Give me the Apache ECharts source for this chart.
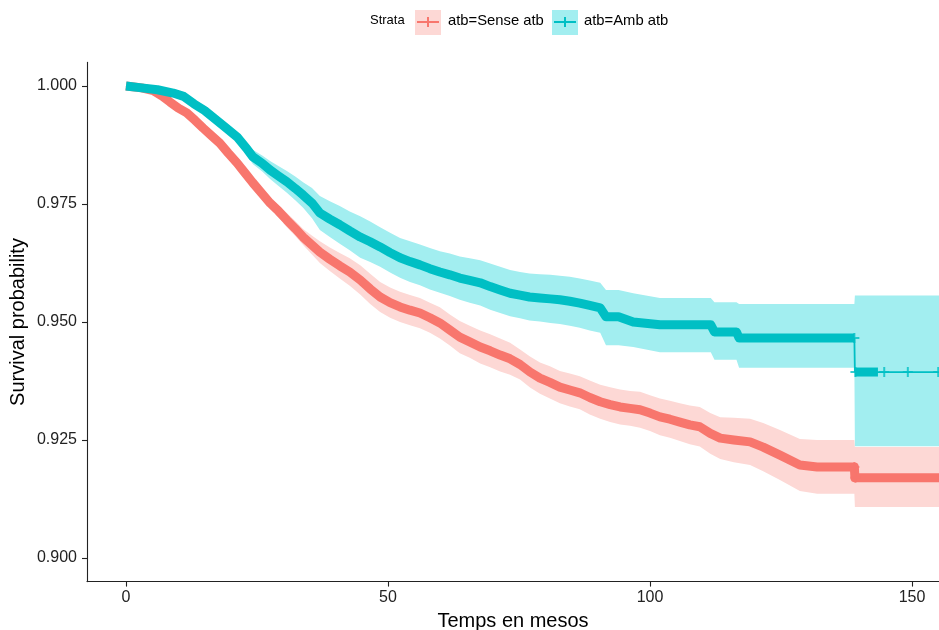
<!DOCTYPE html>
<html>
<head>
<meta charset="utf-8">
<script src="https://cdn.jsdelivr.net/npm/echarts@6/dist/echarts.min.js"></script>
<style>
  html, body { margin: 0; padding: 0; background: #ffffff; }
  #chart { width: 939px; height: 630px; }
</style>
</head>
<body>
<div id="chart"></div>
<script>
// Kaplan-Meier survival by antibiotic group, with 95% confidence bands
const strataTitle = 'Strata';
const strataNames = ['atb=Sense atb', 'atb=Amb atb'];
const xTicks = [0, 50, 100, 150];
const yTicks = [0.900, 0.925, 0.950, 0.975, 1.000];

// atb=Sense atb
const senseTime = [0, 3, 5.2, 7, 8.4, 10, 11.6, 13.2, 14.7, 16.3, 17.9, 19.5, 21.2, 22.7, 24.2, 25.8, 27.5, 29.1, 30.7, 32.3, 33.8, 35.4, 37.0, 38.9, 40.8, 42.7, 44.7, 46.6, 48.5, 50.4, 52.3, 54.2, 56.1, 58.0, 59.9, 61.8, 63.7, 65.6, 67.6, 69.5, 71.4, 73.3, 75.2, 77.1, 79.0, 80.9, 82.8, 84.7, 86.6, 88.5, 90.5, 92.4, 94.3, 96.2, 98.1, 100, 101.9, 103.8, 105.7, 107.6, 109.5, 111.5, 113.4, 116, 119.1, 121.6, 124.8, 128.6, 131.9, 139.0, 139.1, 158];
const senseSurv = [1.0000, 0.9996, 0.9990, 0.9978, 0.9966, 0.9953, 0.9943, 0.9927, 0.9911, 0.9895, 0.9879, 0.9858, 0.9837, 0.9816, 0.9795, 0.9774, 0.9752, 0.9735, 0.9716, 0.9698, 0.9680, 0.9664, 0.9648, 0.9633, 0.9619, 0.9606, 0.9589, 0.9570, 0.9553, 0.9541, 0.9532, 0.9525, 0.9519, 0.9509, 0.9498, 0.9483, 0.9468, 0.9458, 0.9447, 0.9439, 0.9430, 0.9422, 0.9410, 0.9394, 0.9381, 0.9372, 0.9362, 0.9356, 0.9350, 0.9340, 0.9331, 0.9325, 0.9320, 0.9317, 0.9314, 0.9307, 0.9299, 0.9294, 0.9288, 0.9282, 0.9278, 0.9264, 0.9254, 0.9250, 0.9246, 0.9235, 0.9218, 0.9197, 0.9193, 0.9193, 0.9170, 0.9170];
const senseUpper = [1.0000, 0.9997, 0.9991, 0.9980, 0.9968, 0.9955, 0.9946, 0.9930, 0.9915, 0.9899, 0.9884, 0.9863, 0.9843, 0.9822, 0.9802, 0.9783, 0.9763, 0.9748, 0.9731, 0.9714, 0.9697, 0.9684, 0.9671, 0.9658, 0.9646, 0.9635, 0.9620, 0.9602, 0.9585, 0.9573, 0.9564, 0.9557, 0.9551, 0.9541, 0.9531, 0.9516, 0.9502, 0.9492, 0.9482, 0.9474, 0.9465, 0.9456, 0.9442, 0.9427, 0.9414, 0.9406, 0.9396, 0.9391, 0.9385, 0.9376, 0.9367, 0.9362, 0.9357, 0.9354, 0.9352, 0.9345, 0.9338, 0.9333, 0.9328, 0.9323, 0.9320, 0.9307, 0.9298, 0.9297, 0.9295, 0.9286, 0.9271, 0.9252, 0.9250, 0.9250, 0.9235, 0.9235];
const senseLower = [1.0000, 0.9995, 0.9989, 0.9976, 0.9964, 0.9951, 0.9940, 0.9924, 0.9907, 0.9891, 0.9874, 0.9853, 0.9831, 0.9810, 0.9788, 0.9765, 0.9741, 0.9722, 0.9701, 0.9682, 0.9663, 0.9644, 0.9625, 0.9608, 0.9592, 0.9577, 0.9558, 0.9538, 0.9521, 0.9509, 0.9500, 0.9493, 0.9487, 0.9477, 0.9465, 0.9450, 0.9434, 0.9424, 0.9412, 0.9404, 0.9395, 0.9388, 0.9378, 0.9361, 0.9348, 0.9338, 0.9328, 0.9321, 0.9315, 0.9304, 0.9295, 0.9288, 0.9283, 0.9280, 0.9276, 0.9269, 0.9260, 0.9255, 0.9248, 0.9241, 0.9236, 0.9221, 0.9210, 0.9203, 0.9197, 0.9184, 0.9165, 0.9142, 0.9136, 0.9136, 0.9108, 0.9108];
const senseCensor = [139.0, 139.2];
const senseDense = [[0, 158]];

// atb=Amb atb
const ambTime = [0, 3, 6, 9, 11, 13, 15, 17, 19, 21.2, 23, 24.2, 26, 27.5, 29, 30.7, 32.3, 33.8, 35.5, 37.0, 38.9, 40.8, 42.7, 44.7, 46.6, 48.5, 50.4, 52.3, 54.2, 56.1, 58, 59.9, 61.8, 63.7, 65.6, 67.6, 69.5, 71.4, 73.3, 75.2, 77, 79, 81, 82.8, 84.7, 86.6, 88.5, 90.5, 91.6, 94.0, 96.8, 101.9, 111.6, 112.3, 116.5, 117.0, 139.0, 139.1, 158];
const ambSurv = [1.0000, 0.9996, 0.9992, 0.9985, 0.9978, 0.9962, 0.9948, 0.9930, 0.9912, 0.9892, 0.9868, 0.9850, 0.9836, 0.9822, 0.9810, 0.9797, 0.9783, 0.9769, 0.9752, 0.9731, 0.9718, 0.9706, 0.9693, 0.9680, 0.9670, 0.9659, 0.9647, 0.9636, 0.9628, 0.9621, 0.9613, 0.9606, 0.9600, 0.9593, 0.9588, 0.9583, 0.9575, 0.9568, 0.9561, 0.9557, 0.9553, 0.9551, 0.9549, 0.9547, 0.9544, 0.9540, 0.9535, 0.9530, 0.9511, 0.9511, 0.9500, 0.9494, 0.9494, 0.9479, 0.9479, 0.9466, 0.9466, 0.9394, 0.9394];
const ambUpper = [1.0000, 0.9998, 0.9995, 0.9989, 0.9983, 0.9968, 0.9955, 0.9938, 0.9921, 0.9903, 0.9881, 0.9865, 0.9853, 0.9841, 0.9831, 0.9820, 0.9808, 0.9796, 0.9784, 0.9767, 0.9756, 0.9746, 0.9734, 0.9724, 0.9713, 0.9701, 0.9689, 0.9678, 0.9671, 0.9664, 0.9657, 0.9650, 0.9645, 0.9639, 0.9635, 0.9631, 0.9624, 0.9617, 0.9610, 0.9606, 0.9603, 0.9601, 0.9600, 0.9598, 0.9596, 0.9592, 0.9588, 0.9583, 0.9568, 0.9568, 0.9561, 0.9551, 0.9551, 0.9542, 0.9542, 0.9538, 0.9538, 0.9556, 0.9556];
const ambLower = [1.0000, 0.9994, 0.9989, 0.9981, 0.9973, 0.9956, 0.9941, 0.9922, 0.9903, 0.9881, 0.9855, 0.9835, 0.9819, 0.9803, 0.9789, 0.9774, 0.9758, 0.9742, 0.9720, 0.9695, 0.9680, 0.9666, 0.9652, 0.9636, 0.9627, 0.9617, 0.9605, 0.9594, 0.9585, 0.9578, 0.9569, 0.9562, 0.9555, 0.9547, 0.9541, 0.9535, 0.9526, 0.9519, 0.9512, 0.9508, 0.9503, 0.9501, 0.9498, 0.9496, 0.9492, 0.9488, 0.9482, 0.9477, 0.9451, 0.9451, 0.9447, 0.9436, 0.9436, 0.9420, 0.9420, 0.9403, 0.9403, 0.9237, 0.9237];
const ambCensor = [139.0, 139.2, 144.7, 149.2, 155.0];
const ambDense = [[0, 139.0], [139.1, 143.5]];

const RED = '#F8766D';
const TEAL = '#00BFC4';
const RED_BAND = '#FDD8D5';
const TEAL_BAND = '#A2EEF0';
const FONT = 'Liberation Sans, Arial, Helvetica, sans-serif';
const PLUS = 'path://M4,0h2v4h4v2h-4v4h-2v-4h-4v-2h4z';

// value of a curve at time t (later point wins where two share a time)
function valueAt(times, vals, t) {
  if (t <= times[0]) return vals[0];
  for (let i = times.length - 1; i >= 0; i--) {
    if (times[i] <= t) {
      if (times[i] === t || i === times.length - 1) return vals[i];
      const f = (t - times[i]) / (times[i + 1] - times[i]);
      return vals[i] + f * (vals[i + 1] - vals[i]);
    }
  }
  return vals[vals.length - 1];
}

// confidence band as one closed polygon through the axis scales
function bandSeries(times, lower, upper, color) {
  return {
    type: 'custom', coordinateSystem: 'cartesian2d', clip: true, silent: true, z: 1,
    data: [[times[0], upper[0]]],
    renderItem: function (params, api) {
      const pts = [];
      for (let i = 0; i < times.length; i++) pts.push(api.coord([times[i], upper[i]]));
      for (let i = times.length - 1; i >= 0; i--) pts.push(api.coord([times[i], lower[i]]));
      return { type: 'polygon', shape: { points: pts }, style: { fill: color } };
    }
  };
}

function curveSeries(name, times, surv, dense, censor, color, z) {
  const out = [];
  // thin survival line (carries the isolated drops)
  out.push({
    name: name, type: 'line', symbol: 'none', z: z, clip: true,
    data: times.map((t, i) => [t, surv[i]]),
    lineStyle: { color: color, width: 1.8 }
  });
  // stretches where censoring marks pile up into a solid thick trace
  dense.forEach(([a, b]) => {
    const pts = [];
    times.forEach((t, i) => { if (t >= a && t <= b) pts.push([t, surv[i]]); });
    if (pts[pts.length - 1][0] < b) pts.push([b, valueAt(times, surv, b)]);
    out.push({
      name: name, type: 'line', symbol: 'none', z: z, clip: true,
      data: pts,
      lineStyle: { color: color, width: 9, cap: 'butt', join: 'round' }
    });
  });
  // individual censoring marks
  out.push({
    name: name, type: 'scatter', symbol: PLUS, symbolSize: 10, z: z + 1, clip: true,
    data: censor.map(t => [t, valueAt(times, surv, t)]),
    itemStyle: { color: color }
  });
  return out;
}

const chart = echarts.init(document.getElementById('chart'), null, { renderer: 'canvas' });

const legendY = 22;
const option = {
  animation: false,
  backgroundColor: '#ffffff',
  grid: { left: 87, right: 0, top: 62.4, bottom: 48.4, containLabel: false, outerBoundsMode: 'none' },
  xAxis: {
    type: 'value', min: -7.44, max: 155.15,
    name: 'Temps en mesos', nameLocation: 'middle', nameGap: 30, nameMoveOverlap: false,
    nameTextStyle: { fontFamily: FONT, fontSize: 20, color: '#000' },
    axisLine: { show: true, onZero: false, lineStyle: { color: '#222', width: 1.1 } },
    axisTick: { show: true, length: 5, customValues: xTicks, lineStyle: { color: '#222', width: 1.1 } },
    axisLabel: { customValues: xTicks, fontFamily: FONT, fontSize: 16, color: '#222', margin: 8 },
    splitLine: { show: false }
  },
  yAxis: {
    type: 'value', min: 0.895, max: 1.005,
    name: 'Survival probability', nameLocation: 'middle', nameGap: 59, nameRotate: 90, nameMoveOverlap: false,
    nameTextStyle: { fontFamily: FONT, fontSize: 20, color: '#000' },
    axisLine: { show: true, onZero: false, lineStyle: { color: '#222', width: 1.1 } },
    axisTick: { show: true, length: 5, customValues: yTicks, lineStyle: { color: '#222', width: 1.1 } },
    axisLabel: { customValues: yTicks, fontFamily: FONT, fontSize: 16, color: '#222', margin: 10,
      formatter: v => v.toFixed(3) },
    splitLine: { show: false }
  },
  graphic: [
    { type: 'text', left: 370, top: legendY - 8, style: { text: strataTitle, font: '13px ' + FONT, fill: '#000' } },
    { type: 'rect', shape: { x: 415, y: 10, width: 26, height: 25 }, style: { fill: RED_BAND } },
    { type: 'line', shape: { x1: 417, y1: legendY, x2: 439, y2: legendY }, style: { stroke: RED, lineWidth: 2 } },
    { type: 'line', shape: { x1: 428, y1: legendY - 5, x2: 428, y2: legendY + 5 }, style: { stroke: RED, lineWidth: 2 } },
    { type: 'text', left: 448, top: legendY - 9, style: { text: strataNames[0], font: '14.8px ' + FONT, fill: '#000' } },
    { type: 'rect', shape: { x: 552, y: 10, width: 26, height: 25 }, style: { fill: TEAL_BAND } },
    { type: 'line', shape: { x1: 554, y1: legendY, x2: 576, y2: legendY }, style: { stroke: TEAL, lineWidth: 2 } },
    { type: 'line', shape: { x1: 565, y1: legendY - 5, x2: 565, y2: legendY + 5 }, style: { stroke: TEAL, lineWidth: 2 } },
    { type: 'text', left: 584, top: legendY - 9, style: { text: strataNames[1], font: '14.8px ' + FONT, fill: '#000' } }
  ],
  series: [
    bandSeries(senseTime, senseLower, senseUpper, RED_BAND),
    bandSeries(ambTime, ambLower, ambUpper, TEAL_BAND),
    ...curveSeries(strataNames[0], senseTime, senseSurv, senseDense, senseCensor, RED, 3),
    ...curveSeries(strataNames[1], ambTime, ambSurv, ambDense, ambCensor, TEAL, 5)
  ]
};
chart.setOption(option);
</script>
</body>
</html>
